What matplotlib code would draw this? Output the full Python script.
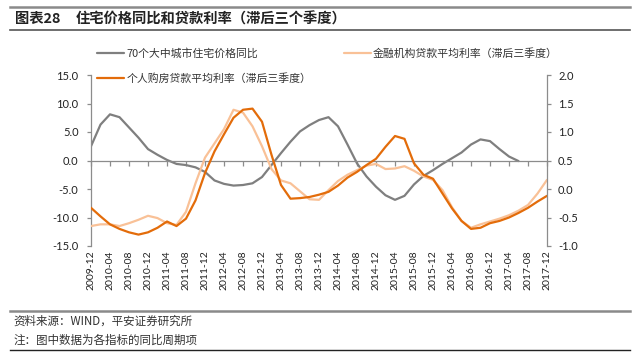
import numpy as np
import matplotlib
matplotlib.use("Agg")
import matplotlib.pyplot as plt
from matplotlib.lines import Line2D

plt.rcParams['font.family'] = ['Noto Sans CJK SC', 'DejaVu Sans']

# ---- data (every 2 months from 2009-12) ---- #
# 70-city residential price YoY, left axis (ends mid 2017)
house_price = [2.5, 6.3, 8.1, 7.6, 5.8, 4.0, 2.0, 1.0, 0.1, -0.6, -0.8, -1.2,
               -2.0, -3.5, -4.1, -4.4, -4.3, -4.0, -2.9, -0.8, 1.3, 3.3, 5.1, 6.2,
               7.1, 7.6, 6.0, 2.8, -0.5, -2.8, -4.6, -6.1, -6.9, -6.2, -4.2, -2.7,
               -1.7, -0.6, 0.4, 1.4, 2.8, 3.7, 3.4, 2.0, 0.7, -0.1]
# financial institutions avg lending rate (lag 3 quarters), right axis
loan_rate = [-0.65, -0.62, -0.62, -0.65, -0.60, -0.54, -0.47, -0.51, -0.60, -0.63,
             -0.40, 0.10, 0.55, 0.80, 1.05, 1.39, 1.34, 1.10, 0.75, 0.35,
             0.15, 0.10, -0.04, -0.18, -0.19, -0.02, 0.14, 0.25, 0.33, 0.41,
             0.44, 0.35, 0.36, 0.40, 0.32, 0.22, 0.16, -0.02, -0.32, -0.56,
             -0.68, -0.62, -0.57, -0.52, -0.46, -0.38, -0.28, -0.08, 0.16]
# personal mortgage avg rate (lag 3 quarters), right axis
mortgage_rate = [-0.33, -0.48, -0.62, -0.70, -0.76, -0.80, -0.76, -0.68, -0.57, -0.65,
                 -0.52, -0.20, 0.28, 0.66, 0.96, 1.25, 1.39, 1.41, 1.18, 0.60,
                 0.07, -0.17, -0.16, -0.14, -0.10, -0.05, 0.06, 0.20, 0.30, 0.42,
                 0.53, 0.74, 0.93, 0.88, 0.45, 0.25, 0.18, -0.08, -0.34, -0.56,
                 -0.70, -0.68, -0.60, -0.56, -0.50, -0.42, -0.33, -0.22, -0.12]

tick_labels = ["2009-12", "2010-04", "2010-08", "2010-12", "2011-04", "2011-08",
               "2011-12", "2012-04", "2012-08", "2012-12", "2013-04", "2013-08",
               "2013-12", "2014-04", "2014-08", "2014-12", "2015-04", "2015-08",
               "2015-12", "2016-04", "2016-08", "2016-12", "2017-04", "2017-08",
               "2017-12"]

names = ["70个大中城市住宅价格同比",
         "金融机构贷款平均利率（滞后三季度）",
         "个人购房贷款平均利率（滞后三季度）"]

GRAY = "#7f7f7f"
LIGHT = "#f9c197"
DARK = "#e36c0a"
AXC = "#8c8c8c"
NUMFONT = "Lato"

x_house = np.arange(len(house_price)) * 2
x_rate = np.arange(len(loan_rate)) * 2
x_ticks = np.arange(len(tick_labels)) * 4

fig = plt.figure(figsize=(6.4, 3.56), dpi=100)
ax = fig.add_axes([91 / 640, 1 - 246 / 356, 456 / 640, 171 / 356])
ax2 = ax.twinx()

l_house, = ax.plot(x_house, house_price, color=GRAY, lw=1.6, solid_capstyle='round', solid_joinstyle='round')
l_loan, = ax2.plot(x_rate, loan_rate, color=LIGHT, lw=1.6, solid_capstyle='round', solid_joinstyle='round')
l_mort, = ax2.plot(x_rate, mortgage_rate, color=DARK, lw=1.6, solid_capstyle='round', solid_joinstyle='round')

ax.set_xlim(0, 96)
ax.set_ylim(-15, 15)
ax2.set_ylim(-1, 2)
ax.set_yticks(np.arange(-15, 15.1, 5))
ax.set_yticklabels([f"{v:.1f}" for v in np.arange(-15, 15.1, 5)], family=NUMFONT, fontsize=8)
ax2.set_yticks(np.arange(-1, 2.01, 0.5))
ax2.set_yticklabels([f"{v:.1f}" for v in np.arange(-1, 2.01, 0.5)], family=NUMFONT, fontsize=8)

for a in (ax, ax2):
    a.spines['top'].set_visible(False)
    for s in ('left', 'right', 'bottom'):
        a.spines[s].set_color(AXC)
        a.spines[s].set_linewidth(0.9)
ax2.spines['bottom'].set_visible(False)
ax2.spines['left'].set_visible(False)
ax.spines['right'].set_visible(False)

# zero line carries the tick marks, labels sit at the bottom
ax.spines['bottom'].set_position(('data', 0))
ax.set_xticks(x_ticks)
ax.tick_params(axis='x', labelbottom=False, length=3.5, color=AXC, width=0.9)
ax.tick_params(axis='y', length=3, color=AXC, width=0.9, pad=6, labelcolor="#222222")
ax2.tick_params(axis='y', length=3, color=AXC, width=0.9, pad=5, labelcolor="#222222")

sec = ax.secondary_xaxis('bottom')
sec.set_xticks(x_ticks)
sec.set_xticklabels(tick_labels, rotation=90, family=NUMFONT, fontsize=7.5, color="#222222")
sec.spines['bottom'].set_visible(False)
sec.tick_params(length=0, pad=3)

fig.legend(handles=[l_house, l_mort, l_loan], labels=[names[0], names[2], names[1]],
           ncol=2, loc='upper left', bbox_to_anchor=(97 / 640, 1 - 48 / 356),
           frameon=False, fontsize=7.8, handlelength=2.5, handletextpad=0.2,
           columnspacing=3.0, labelspacing=1.3, borderpad=0, borderaxespad=0,
           labelcolor="#333333")

# title and rules
fig.add_artist(Line2D([10 / 640, 630 / 640], [1 - 7 / 356] * 2, color="#8a8a8a", lw=1.8))
fig.add_artist(Line2D([10 / 640, 630 / 640], [1 - 30 / 356] * 2, color="#555555", lw=1.2))
fig.text(15 / 640, 1 - 19 / 356, "图表28", fontsize=10.3, fontweight='bold', va='center', color="#222222")
fig.text(76 / 640, 1 - 19 / 356, "住宅价格同比和贷款利率（滞后三个季度）", fontsize=10.3,
         fontweight='bold', va='center', color="#222222")

fig.add_artist(Line2D([10 / 640, 630 / 640], [1 - 311 / 356] * 2, color="#8a8a8a", lw=1.8))
fig.add_artist(Line2D([10 / 640, 630 / 640], [1 - 350 / 356] * 2, color="#222222", lw=1.0))
fig.text(13 / 640, 1 - 321 / 356, "资料来源：WIND，平安证券研究所", fontsize=8.3,
         style='italic', va='center', color="#333333")
fig.text(13 / 640, 1 - 340 / 356, "注：图中数据为各指标的同比周期项", fontsize=8.3,
         style='italic', va='center', color="#333333")

fig.savefig("out.png", dpi=100)
